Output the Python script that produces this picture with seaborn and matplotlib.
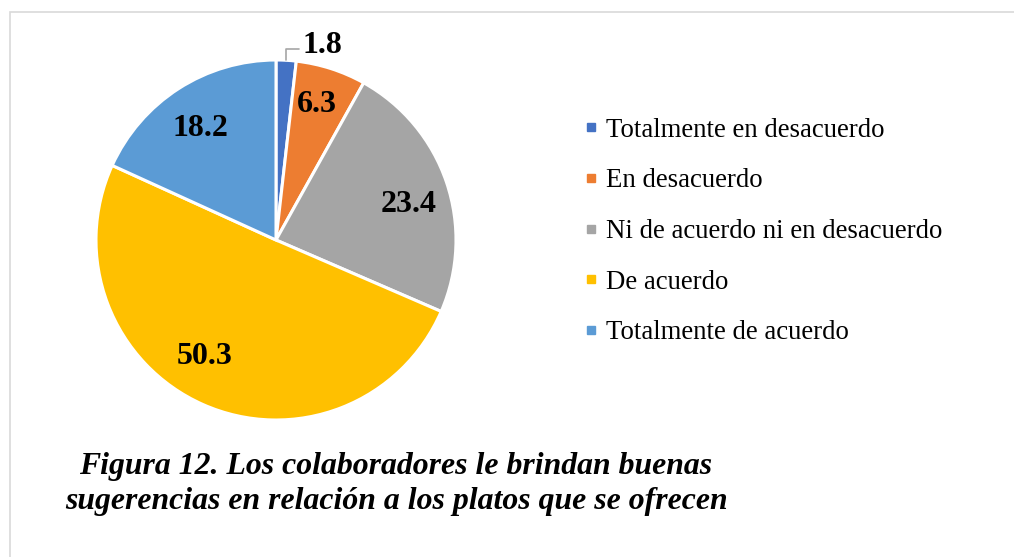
import numpy as np
import seaborn as sns
import matplotlib.pyplot as plt
from matplotlib.patches import Rectangle
from matplotlib.lines import Line2D
from matplotlib.transforms import offset_copy

# Data
categories = ['Totalmente en desacuerdo', 'En desacuerdo', 'Ni de acuerdo ni en desacuerdo',
              'De acuerdo', 'Totalmente de acuerdo']
values = [1.8, 6.3, 23.4, 50.3, 18.2]
colors = ['#4472C4', '#ED7D31', '#A5A5A5', '#FFC000', '#5B9BD5']
title = 'Figura 12. Los colaboradores le brindan buenas\nsugerencias en relación a los platos que se ofrecen'

sns.set_theme(style='white')
plt.rcParams['font.family'] = ['Liberation Serif', 'DejaVu Serif']
plt.rcParams['text.color'] = 'black'

fig = plt.figure(figsize=(10.14, 5.57), dpi=100)

# light gray frame like the original chart area
fig.patches.append(Rectangle((10 / 1014, -0.01), 1.02, 1 - 12 / 557 + 0.01,
                             transform=fig.transFigure, fill=False,
                             edgecolor='#D9D9D9', lw=1.2))

ax = fig.add_axes([96 / 1014, 137 / 557, 360 / 1014, 360 / 557])
wedges, texts = ax.pie(values, colors=colors, startangle=90, counterclock=False,
                       radius=1.0, wedgeprops=dict(edgecolor='white', linewidth=2.2))
ax.set_xlim(-1, 1)
ax.set_ylim(-1, 1)
ax.set_aspect('equal')
ax.axis('off')

# labels sit a few pixels lower than va='center' puts them
lab_trans = offset_copy(ax.transData, fig=fig, x=0, y=-3, units='dots')

# label placement: distance from centre and angle nudge (degrees)
lab_r = [None, 0.804, 0.767, 0.746, 0.764]
lab_dang = [0, 1.5, -2.5, -8.3, 0.8]
for i, (w, v) in enumerate(zip(wedges, values)):
    mid = np.deg2rad((w.theta1 + w.theta2) / 2)
    if i == 0:
        x0, y0 = np.cos(mid), np.sin(mid)
        ax.plot([x0, x0, x0 + 0.072], [y0, y0 + 0.061, y0 + 0.061], color='#A6A6A6',
                lw=1.2, clip_on=False)
        ax.text(x0 + 0.09, y0 + 0.10, f'{v}', ha='left', va='center', fontsize=23,
                fontweight='bold', clip_on=False, transform=lab_trans)
    else:
        a = mid + np.deg2rad(lab_dang[i])
        r = lab_r[i]
        ax.text(r * np.cos(a), r * np.sin(a), f'{v}', ha='center', va='center',
                fontsize=23, fontweight='bold', transform=lab_trans)

handles = [Line2D([], [], marker='s', linestyle='none', markersize=6.3,
                  markerfacecolor=c, markeredgecolor=c) for c in colors]
fig.legend(handles, categories, loc='upper left', bbox_to_anchor=(583 / 1014, 1 - 117.5 / 557),
           frameon=False, fontsize=19.3, handlelength=0.6, handletextpad=0.26,
           labelspacing=0.96, borderaxespad=0, borderpad=0)

fig.text(396 / 1014, 1 - 484 / 557, title, ha='center', va='center', fontsize=22.9,
         fontweight='bold', fontstyle='italic', multialignment='center', linespacing=1.24)

fig.savefig('out.png', dpi=100)
